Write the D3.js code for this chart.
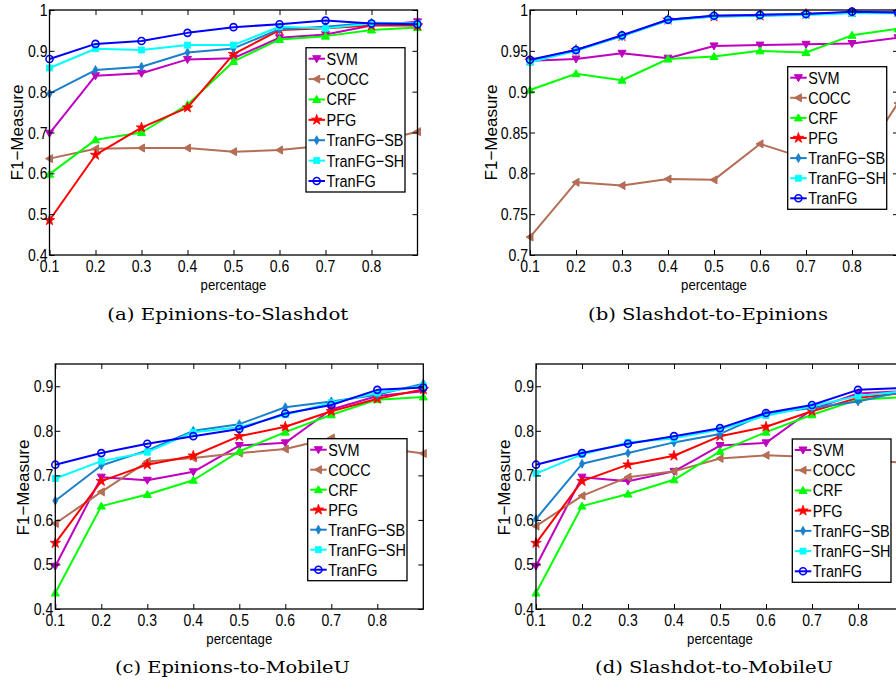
<!DOCTYPE html>
<html><head><meta charset="utf-8">
<script src="https://cdn.jsdelivr.net/npm/d3@7"></script>
<style>body{margin:0;background:#fff;overflow:hidden}svg{display:block}</style>
</head><body>
<svg id="chart" width="896" height="683"></svg>
<script>
// ---------- data ----------
const percentages = [0.1,0.2,0.3,0.4,0.5,0.6,0.7,0.8,0.9];
const xTickValues = [0.1,0.2,0.3,0.4,0.5,0.6,0.7,0.8];
const methods = ["SVM","COCC","CRF","PFG","TranFG-SB","TranFG-SH","TranFG"];
const methodLabels = ["SVM","COCC","CRF","PFG","TranFG\u2212SB","TranFG\u2212SH","TranFG"];
const captions = ["(a) Epinions-to-Slashdot","(b) Slashdot-to-Epinions","(c) Epinions-to-MobileU","(d) Slashdot-to-MobileU"];
const yTicksA = [0.4,0.5,0.6,0.7,0.8,0.9,1.0];
const yTicksB = [0.7,0.75,0.8,0.85,0.9,0.95,1.0];
const yTicksCD = [0.4,0.5,0.6,0.7,0.8,0.9];

// Epinions-to-Slashdot
const a_SVM    = [0.698,0.839,0.845,0.879,0.882,0.932,0.940,0.962,0.971];
const a_COCC   = [0.636,0.660,0.662,0.662,0.653,0.657,0.668,0.675,0.702];
const a_CRF    = [0.598,0.682,0.700,0.768,0.874,0.928,0.936,0.951,0.957];
const a_PFG    = [0.485,0.645,0.712,0.761,0.892,0.951,0.955,0.962,0.962];
const a_SB     = [0.795,0.853,0.861,0.896,0.906,0.953,0.959,0.969,0.967];
const a_SH     = [0.858,0.905,0.902,0.914,0.914,0.959,0.955,0.967,0.967];
const a_TranFG = [0.880,0.917,0.924,0.944,0.958,0.965,0.974,0.967,0.965];
// Slashdot-to-Epinions
const b_SVM    = [0.938,0.940,0.947,0.941,0.956,0.957,0.958,0.959,0.966];
const b_COCC   = [0.722,0.789,0.785,0.793,0.792,0.836,0.818,0.800,0.886];
const b_CRF    = [0.902,0.922,0.914,0.940,0.943,0.950,0.948,0.969,0.977];
const b_PFG    = [0.938,0.951,0.968,0.988,0.992,0.993,0.995,0.997,0.997];
const b_SB     = [0.937,0.951,0.968,0.988,0.993,0.994,0.995,0.997,0.997];
const b_SH     = [0.936,0.950,0.968,0.987,0.992,0.993,0.994,0.996,0.996];
const b_TranFG = [0.939,0.951,0.969,0.988,0.993,0.994,0.995,0.998,0.997];
// Epinions-to-MobileU
const c_SVM    = [0.496,0.696,0.689,0.708,0.767,0.773,0.848,0.878,0.889];
const c_COCC   = [0.592,0.663,0.731,0.739,0.750,0.759,0.784,0.763,0.749];
const c_CRF    = [0.436,0.631,0.657,0.689,0.754,0.797,0.836,0.870,0.876];
const c_PFG    = [0.548,0.687,0.724,0.744,0.788,0.809,0.844,0.872,0.893];
const c_SB     = [0.643,0.722,0.756,0.800,0.815,0.853,0.866,0.881,0.906];
const c_SH     = [0.693,0.732,0.752,0.797,0.808,0.836,0.863,0.885,0.901];
const c_TranFG = [0.724,0.750,0.771,0.788,0.804,0.839,0.858,0.892,0.897];
// Slashdot-to-MobileU
const d_SVM    = [0.496,0.696,0.687,0.709,0.767,0.773,0.848,0.884,0.889];
const d_COCC   = [0.586,0.654,0.696,0.709,0.738,0.745,0.741,0.735,0.728];
const d_CRF    = [0.436,0.631,0.658,0.690,0.754,0.797,0.836,0.870,0.876];
const d_PFG    = [0.548,0.687,0.724,0.744,0.788,0.809,0.844,0.874,0.885];
const d_SB     = [0.602,0.726,0.750,0.774,0.793,0.839,0.851,0.866,0.889];
const d_SH     = [0.704,0.747,0.774,0.783,0.803,0.834,0.855,0.878,0.889];
const d_TranFG = [0.724,0.750,0.771,0.788,0.806,0.840,0.858,0.892,0.896];

// ---------- styling / layout ----------
const colors = {"SVM":"#bf00bf","COCC":"#b46e55","CRF":"#00ff00","PFG":"#ff0000","TranFG-SB":"#1a80cc","TranFG-SH":"#00ffff","TranFG":"#0000ff"};
const panels = [
  {series:[a_SVM,a_COCC,a_CRF,a_PFG,a_SB,a_SH,a_TranFG], left:49.5, top:10, ydom:[0.4,1.0], yticks:yTicksA,
   leg:{x:306,y:47.7,w:99,h:144.3}, ylab:{x:23.3,y:132.5}, cap:{x:227.8,y:320,w:241}},
  {series:[b_SVM,b_COCC,b_CRF,b_PFG,b_SB,b_SH,b_TranFG], left:530, top:10, ydom:[0.7,1.0], yticks:yTicksB,
   leg:{x:787.7,y:66.7,w:99,h:142.6}, ylab:{x:496.5,y:132.5}, cap:{x:708,y:320,w:240}},
  {series:[c_SVM,c_COCC,c_CRF,c_PFG,c_SB,c_SH,c_TranFG], left:55.3, top:364, ydom:[0.4,0.95], yticks:yTicksCD,
   leg:{x:307.7,y:438.7,w:99.3,h:142}, ylab:{x:29.3,y:487.5}, cap:{x:232.5,y:673,w:235}},
  {series:[d_SVM,d_COCC,d_CRF,d_PFG,d_SB,d_SH,d_TranFG], left:536, top:364, ydom:[0.4,0.95], yticks:yTicksCD,
   leg:{x:792.3,y:439,w:98.7,h:143.3}, ylab:{x:510,y:487.5}, cap:{x:714,y:673,w:238}}
];
const PW = 368, PH = 245;
const SX = 0.85, FS = 17, FONT = "'Liberation Sans', Arial, Helvetica, sans-serif";
const fmt = d3.format("~g");

const svg = d3.select("#chart");

function htext(g, x, y, str, anchor, size) {
  return g.append("text")
    .attr("transform", `translate(${x},${y}) scale(${SX},1)`)
    .attr("text-anchor", anchor || "start")
    .attr("font-family", FONT).attr("font-size", size || FS)
    .attr("fill", "#000").text(str);
}

function marker(g, name) {
  const c = colors[name];
  if (name === "SVM") {
    g.append("path").attr("d", "M-4,-3L4,-3L0,4Z").attr("fill", c).attr("stroke", c).attr("stroke-width", 1);
  } else if (name === "COCC") {
    g.append("path").attr("d", "M-4,0L3,-4L3,4Z").attr("fill", c).attr("stroke", c).attr("stroke-width", 1);
  } else if (name === "CRF") {
    g.append("path").attr("d", "M-4,3L4,3L0,-4Z").attr("fill", c).attr("stroke", c).attr("stroke-width", 1);
  } else if (name === "PFG") {
    g.append("path").attr("d", d3.symbol(d3.symbolStar, 34)()).attr("fill", c).attr("stroke", c).attr("stroke-width", 0.8);
  } else if (name === "TranFG-SB") {
    g.append("path").attr("d", "M0,-4.5L2.5,0L0,4.5L-2.5,0Z").attr("fill", c).attr("stroke", c).attr("stroke-width", 0.8);
  } else if (name === "TranFG-SH") {
    g.append("rect").attr("x", -3).attr("y", -3).attr("width", 6).attr("height", 6).attr("fill", c).attr("stroke", c).attr("stroke-width", 0.8);
  } else {
    g.append("circle").attr("r", 3.5).attr("fill", "none").attr("stroke", c).attr("stroke-width", 1.6);
  }
}
function placeMarker(g, name, x, y) {
  marker(g.append("g").attr("transform", `translate(${x},${y})`), name);
}

panels.forEach((p, pi) => {
  const x = d3.scaleLinear().domain([0.1, 0.9]).range([p.left, p.left + PW]);
  const y = d3.scaleLinear().domain(p.ydom).range([p.top + PH, p.top]);
  const g = svg.append("g");

  const line = d3.line().x((d, i) => x(percentages[i])).y(d => y(d));
  p.series.forEach((vals, si) => {
    const name = methods[si];
    g.append("path").datum(vals).attr("d", line)
      .attr("fill", "none").attr("stroke", colors[name]).attr("stroke-width", 2).attr("stroke-linejoin", "round");
    vals.forEach((v, i) => placeMarker(g, name, x(percentages[i]), y(v)));
  });

  // box with inward ticks on all sides
  const ax = svg.append("g");
  const mk = (axis, tr) => {
    const s = ax.append("g").attr("transform", tr).call(axis);
    s.select(".domain").remove(); s.selectAll(".tick text").remove();
  };
  mk(d3.axisBottom(x).tickValues(xTickValues).tickSize(-5), `translate(0,${p.top + PH})`);
  mk(d3.axisTop(x).tickValues(xTickValues).tickSize(-5), `translate(0,${p.top})`);
  mk(d3.axisLeft(y).tickValues(p.yticks).tickSize(-5), `translate(${p.left},0)`);
  mk(d3.axisRight(y).tickValues(p.yticks).tickSize(-5), `translate(${p.left + PW},0)`);
  ax.selectAll(".tick line").attr("stroke", "#000").attr("stroke-width", 1);
  ax.append("rect").attr("x", p.left).attr("y", p.top).attr("width", PW).attr("height", PH)
    .attr("fill", "none").attr("stroke", "#000").attr("stroke-width", 1.3);

  xTickValues.forEach(v => htext(ax, x(v), p.top + PH + 17, fmt(v), "middle", 16.5));
  p.yticks.forEach(v => htext(ax, p.left - 2, y(v) + 6, fmt(v), "end", 16.5));

  htext(ax, p.left + PW / 2, p.top + PH + 35, "percentage", "middle", 15.5);
  ax.append("text").attr("transform", `translate(${p.ylab.x},${p.ylab.y}) rotate(-90)`)
    .attr("text-anchor", "middle").attr("font-family", FONT).attr("font-size", FS).text("F1\u2212Measure");

  // legend
  const L = p.leg;
  const lg = svg.append("g");
  lg.append("rect").attr("x", L.x).attr("y", L.y).attr("width", L.w).attr("height", L.h)
    .attr("fill", "#fff").attr("stroke", "#000").attr("stroke-width", 1.3);
  const step = (L.h - 22) / 6;
  methods.forEach((name, i) => {
    const cy = L.y + 11 + i * step;
    lg.append("line").attr("x1", L.x + 2.5).attr("x2", L.x + 19).attr("y1", cy).attr("y2", cy)
      .attr("stroke", colors[name]).attr("stroke-width", 2);
    placeMarker(lg, name, L.x + 10.7, cy);
    htext(lg, L.x + 20.5, cy + 6, methodLabels[i], "start", FS);
  });

  svg.append("text").attr("x", p.cap.x).attr("y", p.cap.y).attr("text-anchor", "middle")
    .attr("font-family", "'DejaVu Serif', 'Liberation Serif', serif").attr("font-size", 17)
    .attr("textLength", p.cap.w).attr("lengthAdjust", "spacingAndGlyphs")
    .text(captions[pi]);
});
</script>
</body></html>
